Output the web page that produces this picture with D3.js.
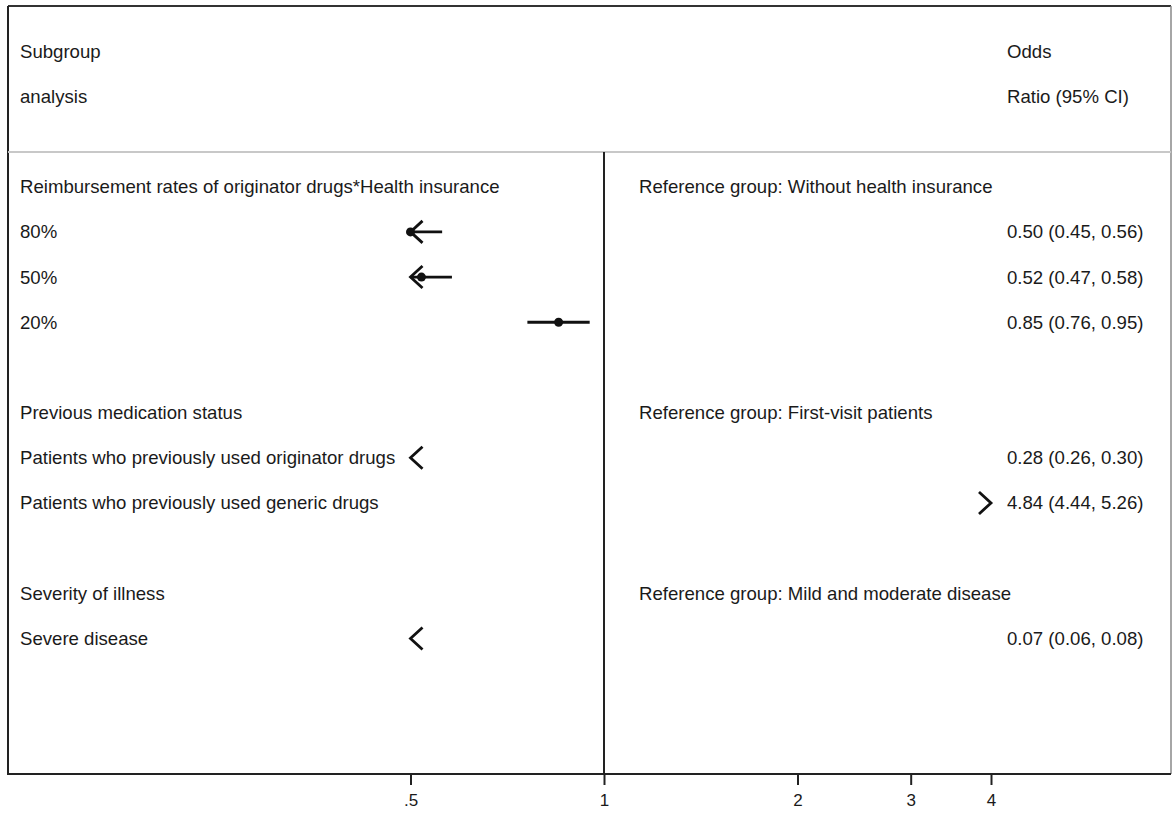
<!DOCTYPE html>
<html>
<head>
<meta charset="utf-8">
<script src="https://cdn.jsdelivr.net/npm/d3@7/dist/d3.min.js"></script>
<style>
  html, body { margin: 0; padding: 0; background: #fff; }
  svg { display: block; }
  text { font-family: "Liberation Sans", Arial, Helvetica, sans-serif; fill: #1a1a1a; }
</style>
</head>
<body>
<svg id="chart" width="1173" height="816"></svg>
<script>
// Column headers
const headerLeft = ["Subgroup", "analysis"];
const headerRight = ["Odds", "Ratio (95% CI)"];

// Group titles and their reference categories
const groups = [
  "Reimbursement rates of originator drugs*Health insurance",
  "Previous medication status",
  "Severity of illness"
];
const referenceGroups = [
  "Reference group: Without health insurance",
  "Reference group: First-visit patients",
  "Reference group: Mild and moderate disease"
];

// Subgroup estimates
const subgroups = [
  "80%",
  "50%",
  "20%",
  "Patients who previously used originator drugs",
  "Patients who previously used generic drugs",
  "Severe disease"
];
const subgroupGroup = [0, 0, 0, 1, 1, 2];
const oddsRatio = [0.50, 0.52, 0.85, 0.28, 4.84, 0.07];
const ciLower   = [0.45, 0.47, 0.76, 0.26, 4.44, 0.06];
const ciUpper   = [0.56, 0.58, 0.95, 0.30, 5.26, 0.08];

// Axis
const xTicks = [0.5, 1, 2, 3, 4];
const xTickLabels = [".5", "1", "2", "3", "4"];
const xDomain = [0.5, 4];

const svg = d3.select("#chart");
const frame = { left: 8, right: 1171, top: 6, bottom: 774 };

// Row positions: rows 0-1 header, then each group (title, subgroups, spacer)
const rows = [];
let r = 3;
groups.forEach((g, gi) => {
  rows.push({ kind: "group", row: r, gi });
  r++;
  subgroups.forEach((s, i) => {
    if (subgroupGroup[i] === gi) { rows.push({ kind: "sub", row: r, i }); r++; }
  });
  r++;
});
const lastRow = 16;

const y = d3.scaleLinear().domain([-1, lastRow]).range([frame.top, frame.bottom]);
const x = d3.scaleLog().domain(xDomain).range([410.5, 991]);

const fontSize = 18.6;
const textX = 20, refX = 639, valueX = 1007;
const base = 6.5;

// Frame
svg.append("line").attr("x1", frame.left).attr("x2", frame.right).attr("y1", frame.top).attr("y2", frame.top)
  .attr("stroke", "#333").attr("stroke-width", 2);
svg.append("line").attr("x1", frame.left).attr("x2", frame.left).attr("y1", frame.top).attr("y2", frame.bottom)
  .attr("stroke", "#222").attr("stroke-width", 2);
svg.append("line").attr("x1", frame.right).attr("x2", frame.right).attr("y1", frame.top).attr("y2", frame.bottom)
  .attr("stroke", "#888").attr("stroke-width", 1.5);

// Header separator
const sepY = (y(1) + y(3)) / 2 + 10.5;
svg.append("line").attr("x1", frame.left).attr("x2", frame.right).attr("y1", sepY).attr("y2", sepY)
  .attr("stroke", "#c8c8c8").attr("stroke-width", 2);

// Null line at OR = 1
svg.append("line").attr("x1", x(1)).attr("x2", x(1)).attr("y1", sepY).attr("y2", frame.bottom)
  .attr("stroke", "#222").attr("stroke-width", 2);

// Header text
headerLeft.forEach((t, i) => svg.append("text").attr("x", textX).attr("y", y(i) + base)
  .attr("font-size", fontSize).text(t));
headerRight.forEach((t, i) => svg.append("text").attr("x", valueX).attr("y", y(i) + base)
  .attr("font-size", fontSize).text(t));

// Group titles
rows.filter(d => d.kind === "group").forEach(d => {
  svg.append("text").attr("x", textX).attr("y", y(d.row) + base).attr("font-size", fontSize).text(groups[d.gi]);
  svg.append("text").attr("x", refX).attr("y", y(d.row) + base).attr("font-size", fontSize).text(referenceGroups[d.gi]);
});

// Subgroup rows
const fmt = d3.format(".2f");
const ink = "#111";
const sw = 2.8;
const head = { dx: 12, dy: 11 };
rows.filter(d => d.kind === "sub").forEach(d => {
  const i = d.i, cy = y(d.row);
  svg.append("text").attr("x", textX).attr("y", cy + base).attr("font-size", fontSize).text(subgroups[i]);
  svg.append("text").attr("x", valueX).attr("y", cy + base).attr("font-size", fontSize)
    .text(`${fmt(oddsRatio[i])} (${fmt(ciLower[i])}, ${fmt(ciUpper[i])})`);

  const lo = ciLower[i], hi = ciUpper[i];
  const g = svg.append("g");
  const [dMin, dMax] = xDomain;
  const a = Math.max(lo, dMin), b = Math.min(hi, dMax);
  if (a < b) {
    g.append("line").attr("x1", x(a)).attr("x2", x(b)).attr("y1", cy).attr("y2", cy)
      .attr("stroke", ink).attr("stroke-width", sw);
  }
  if (lo < dMin) {
    const tx = x(dMin);
    g.append("path").attr("d", `M${tx + head.dx},${cy - head.dy}L${tx},${cy}L${tx + head.dx},${cy + head.dy}`)
      .attr("fill", "none").attr("stroke", ink).attr("stroke-width", sw);
  }
  if (hi > dMax) {
    const tx = x(dMax);
    g.append("path").attr("d", `M${tx - head.dx},${cy - head.dy}L${tx},${cy}L${tx - head.dx},${cy + head.dy}`)
      .attr("fill", "none").attr("stroke", ink).attr("stroke-width", sw);
  }
  const or = oddsRatio[i];
  if (or >= dMin && or <= dMax) {
    g.append("circle").attr("cx", x(or)).attr("cy", cy).attr("r", 4.5).attr("fill", ink);
  }
});

// Bottom axis
svg.append("line").attr("x1", frame.left - 1).attr("x2", frame.right).attr("y1", frame.bottom).attr("y2", frame.bottom)
  .attr("stroke", "#222").attr("stroke-width", 2);
const axis = d3.axisBottom(x).tickValues(xTicks).tickFormat((d, i) => xTickLabels[i])
  .tickSize(11).tickSizeOuter(0).tickPadding(9);
const ax = svg.append("g").attr("transform", `translate(0,${frame.bottom})`).call(axis);
ax.select(".domain").remove();
ax.selectAll(".tick line").attr("stroke", "#222").attr("stroke-width", 2);
ax.selectAll(".tick text").attr("font-size", 17).attr("fill", "#1a1a1a")
  .style("font-family", "'Liberation Sans', Arial, sans-serif");
</script>
</body>
</html>
